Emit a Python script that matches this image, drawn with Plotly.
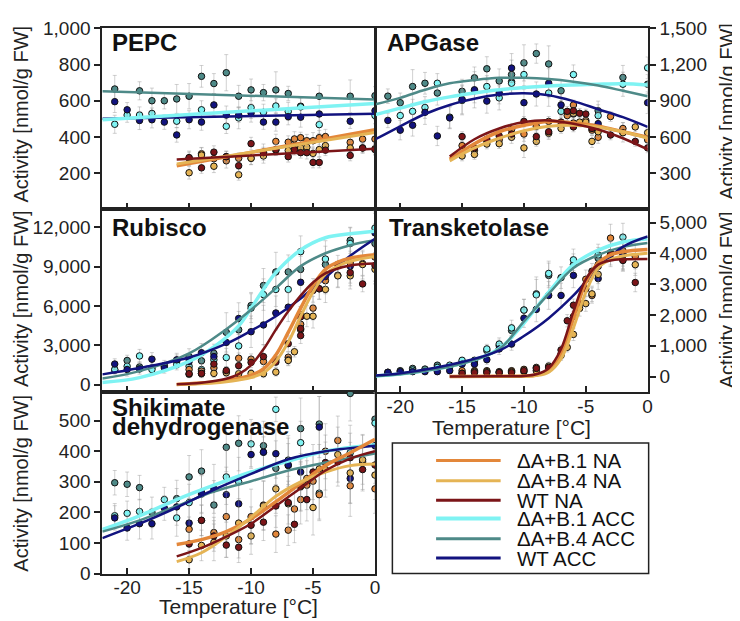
import plotly.graph_objects as go

W, H = 740, 621
FONT = "Liberation Sans, Arial, sans-serif"

TEMP_TICKS = [-20, -15, -10, -5, 0]
TEMP_TICK_TEXT = ["-20", "-15", "-10", "-5", "0"]
SERIES = ["ΔA+B.1 NA", "ΔA+B.4 NA", "WT NA", "ΔA+B.1 ACC", "ΔA+B.4 ACC", "WT ACC"]
COLORS = ["#E3873A", "#E5B455", "#7B1518", "#7FF3F3", "#4E8A88", "#12137F"]
LINE_W = [3.5, 3, 2.5, 3.5, 2.5, 2.5]

# ---------------- PEPC ----------------
PEPC_NA_X = [-15, -14, -13, -12, -11, -10, -9, -8, -7, -6.5, -6, -5.5, -5, -4.5, -4, -2, -1, 0]
PEPC_B1NA_Y = [282, 307, 280, 268, 282, 282, 316, 375, 371, 389, 396, 379, 379, 396, 402, 370, 388, 388]
PEPC_B1NA_E = [40, 35, 30, 40, 30, 35, 45, 40, 35, 40, 30, 35, 45, 40, 40, 35, 30, 30]
PEPC_B4NA_Y = [202, 300, 238, 291, 191, 282, 295, 327, 325, 352, 339, 343, 309, 330, 352, 339, 339, 335]
PEPC_B4NA_E = [35, 40, 35, 30, 30, 35, 40, 30, 35, 30, 30, 30, 35, 40, 35, 40, 30, 30]
PEPC_WTNA_Y = [286, 229, 316, 291, 241, 363, 313, 330, 291, 330, 313, 313, 259, 259, 327, 298, 339, 330]
PEPC_WTNA_E = [30, 30, 35, 30, 35, 35, 30, 30, 30, 30, 30, 35, 30, 30, 30, 30, 25, 30]
PEPC_B1ACC_X = [-21, -20, -19, -18, -16, -14, -12, -11, -10, -9, -8, -7, -6, -4.5, 0]
PEPC_B1ACC_Y = [470, 521, 521, 530, 487, 550, 459, 505, 562, 536, 571, 541, 566, 468, 518]
PEPC_B1ACC_E = [50, 40, 45, 30, 35, 50, 40, 60, 60, 45, 40, 50, 55, 50, 45]
PEPC_B4ACC_X = [-21, -19, -18, -17, -16, -15, -14, -13, -12, -11, -10, -9, -8, -7, -6, -4.5, -2, 0]
PEPC_B4ACC_Y = [665, 655, 600, 600, 610, 625, 735, 695, 755, 625, 660, 645, 660, 640, 570, 625, 625, 628]
PEPC_B4ACC_E = [75, 50, 70, 45, 80, 70, 60, 55, 100, 60, 60, 45, 100, 40, 45, 60, 90, 50]
PEPC_WTACC_X = [-21, -20, -19, -18, -17, -16, -15, -14, -13, -12, -11, -10, -9, -8, -7, -6, -4.5, -2, 0]
PEPC_WTACC_Y = [595, 550, 491, 495, 482, 411, 495, 482, 577, 521, 521, 532, 482, 482, 512, 509, 527, 487, 545]
PEPC_WTACC_E = [60, 40, 50, 45, 40, 40, 50, 45, 60, 50, 40, 50, 40, 50, 45, 55, 40, 40, 50]
PEPC_FIT_NA_X = [-16, 0]
PEPC_FIT_ACC_X = [-22, 0]
PEPC_FIT_B1NA = [240, 440]
PEPC_FIT_B4NA = [250, 425]
PEPC_FIT_WTNA = [275, 335]
PEPC_FIT_B1ACC = [495, 585]
PEPC_FIT_B4ACC = [652, 607]
PEPC_FIT_WTACC = [500, 528]

# ---------------- APGase ----------------
APG_B1NA_X = [-15, -14, -13, -12, -11, -10, -9, -8, -7, -6.5, -6, -6, -5, -4.5, -4, -3, -2, 0]
APG_B1NA_Y = [528, 490, 563, 576, 662, 624, 688, 729, 697, 777, 865, 715, 737, 656, 597, 769, 670, 576]
APG_B1NA_E = [40, 40, 40, 40, 50, 60, 50, 40, 50, 40, 40, 40, 50, 40, 50, 40, 50, 40]
APG_B4NA_X = [-15, -14, -13, -12, -11, -10, -9, -8, -7, -6, -5.5, -5, -4.5, -4, -2, -1, 0]
APG_B4NA_Y = [442, 455, 541, 544, 597, 509, 563, 630, 670, 796, 723, 723, 563, 643, 635, 683, 635]
APG_B4NA_E = [40, 40, 40, 40, 50, 80, 40, 50, 40, 50, 40, 40, 50, 40, 40, 40, 40]
APG_WTNA_X = [-15, -14, -13, -12, -11, -10, -9, -8, -7, -6.5, -6, -6, -5.5, -5, -4.5, -3, -1, 0]
APG_WTNA_Y = [603, 509, 581, 608, 624, 729, 603, 643, 723, 812, 817, 683, 796, 790, 670, 616, 563, 509]
APG_WTNA_E = [40, 40, 40, 40, 40, 40, 50, 50, 40, 40, 40, 40, 40, 40, 40, 40, 40, 40]
APG_B1ACC_X = [-20, -19, -18, -17, -16, -15, -14, -13, -12, -11, -10, -8, -7, -6, -4, -2, 0]
APG_B1ACC_Y = [777, 812, 844, 1045, 764, 903, 983, 1018, 924, 1045, 1117, 964, 812, 1117, 777, 1037, 1173]
APG_B1ACC_E = [80, 100, 90, 80, 90, 120, 100, 90, 100, 90, 120, 110, 90, 80, 90, 100, 90]
APG_B4ACC_X = [-21, -20, -19, -18, -17, -15, -14, -13, -12, -11, -11, -10, -9, -8, -7, -4, -2, 0]
APG_B4ACC_Y = [938, 884, 1018, 1045, 964, 978, 1090, 1165, 1064, 1117, 1058, 1214, 1291, 1205, 983, 817, 1093, 1037]
APG_B4ACC_E = [60, 80, 140, 90, 100, 100, 90, 100, 100, 120, 90, 150, 80, 150, 90, 80, 100, 80]
APG_WTACC_X = [-21, -20, -19, -18, -17, -16, -15, -14, -13, -12, -11, -10, -9, -8, -7, -6, -4, -2, 0]
APG_WTACC_Y = [737, 656, 697, 804, 608, 758, 911, 991, 897, 964, 1171, 884, 956, 1045, 865, 790, 710, 638, 884]
APG_WTACC_E = [60, 80, 90, 100, 80, 90, 120, 150, 100, 90, 120, 140, 100, 120, 90, 100, 90, 80, 90]
APG_FIT_NA_X = [-16, -14, -12, -10, -8, -6, -4, -2, 0]
APG_FIT_ACC_X = [-22, -20, -18, -16, -14, -12, -10, -8, -6, -4, -2, 0]
APG_FIT_B1NA = [415, 544, 643, 697, 729, 715, 688, 643, 597]
APG_FIT_B4NA = [402, 509, 589, 651, 688, 697, 683, 643, 589]
APG_FIT_WTNA = [437, 581, 670, 723, 737, 710, 662, 589, 496]
APG_FIT_B1ACC = [785, 839, 892, 932, 964, 991, 1010, 1023, 1031, 1037, 1040, 1031]
APG_FIT_B4ACC = [871, 924, 991, 1045, 1072, 1090, 1090, 1080, 1058, 1026, 983, 938]
APG_FIT_WTACC = [581, 688, 790, 865, 916, 951, 962, 946, 897, 830, 764, 683]

# ---------------- Rubisco ----------------
RUB_ACC_X = [-21, -20, -19, -18, -17, -16, -15, -14, -13, -12, -11, -10, -9, -8, -7, -6, -4, -2, 0]
RUB_B1ACC_Y = [1158, 1404, 2193, 1158, 1404, 1528, 1404, 1158, 1897, 2070, 2957, 5840, 6874, 7269, 7269, 10151, 9585, 10767, 11950]
RUB_B1ACC_E = [300, 400, 500, 400, 300, 400, 400, 400, 600, 700, 900, 1100, 1200, 1300, 1500, 1200, 1400, 1200, 1300]
RUB_B4ACC_Y = [1109, 1848, 1355, 1281, 1454, 1774, 2144, 1823, 2390, 3992, 4189, 6037, 7564, 8600, 8600, 8797, 9166, 11014, 10767]
RUB_B4ACC_E = [300, 400, 400, 500, 400, 500, 600, 600, 700, 1500, 1400, 1000, 1300, 1500, 1300, 1000, 1400, 1000, 1500]
RUB_WTACC_Y = [1577, 1158, 1207, 1947, 1281, 1897, 1774, 2439, 2144, 3228, 5051, 4041, 4558, 5470, 5914, 7811, 8427, 9043, 11581]
RUB_WTACC_E = [400, 500, 400, 500, 400, 500, 600, 700, 600, 900, 1200, 1200, 1500, 1300, 1100, 1200, 1000, 1500, 1500]
RUB_B1NA_X = [-15, -14, -13, -12, -11, -10, -9, -8, -7, -7, -6, -6, -5, -4.5, -4, -3, -2, -1, 0]
RUB_B1NA_Y = [1158, 1035, 1281, 986, 2020, 1947, 1774, 1897, 2094, 1897, 4189, 4608, 5840, 7318, 7934, 8353, 9289, 9240, 9733]
RUB_B1NA_E = [300, 300, 300, 300, 400, 400, 400, 400, 400, 400, 600, 700, 900, 800, 1000, 900, 900, 900, 1000]
RUB_B4NA_X = [-15, -14, -13, -12, -11, -10, -9, -8, -7, -6.5, -6, -5.5, -5, -4, -3, -2, -1, 0]
RUB_B4NA_Y = [788, 838, 862, 912, 838, 862, 838, 961, 1848, 2513, 5347, 5224, 5224, 7269, 8304, 8304, 9166, 8800]
RUB_B4NA_E = [200, 300, 300, 300, 300, 300, 300, 300, 400, 400, 600, 800, 900, 1000, 900, 1000, 1100, 900]
RUB_WTNA_X = [-15, -14, -13, -12, -11, -10, -9, -8, -7, -6, -6, -6, -5, -4.5, -4, -3, -2, -1, 0]
RUB_WTNA_Y = [838, 862, 1577, 1084, 1454, 1700, 2144, 1725, 3129, 4287, 3745, 5174, 7195, 7318, 8254, 9166, 8550, 7688, 9092]
RUB_WTNA_E = [300, 300, 400, 300, 400, 400, 900, 400, 600, 700, 600, 800, 900, 800, 800, 700, 800, 600, 1400]
RUB_FIT_ACC_X = [-22, -19, -15, -12, -10, -8, -6, -4, -2, 0]
RUB_FIT_B1ACC_X = [-22, -19, -15, -13, -11, -10, -9, -8, -6, -4, -2, 0]
RUB_FIT_B1ACC = [172, 542, 1774, 2883, 4484, 5840, 7269, 8550, 10275, 11211, 11507, 11704]
RUB_FIT_B4ACC = [468, 1035, 2390, 4238, 5716, 7367, 9043, 10028, 10644, 11014]
RUB_FIT_WTACC = [788, 1281, 2070, 3129, 4115, 5224, 6579, 8180, 9831, 11137]
RUB_FIT_WTNA_X = [-16, -14, -12, -11, -10, -9, -8, -7, -6, -5, -4, -2, 0]
RUB_FIT_WTNA = [40, 150, 450, 800, 1500, 2700, 4200, 5600, 6800, 7800, 8500, 9100, 9250]
RUB_FIT_B1NA_X = [-16, -13, -12, -11, -10, -9, -8, -7, -6, -5, -4, -3, -2, 0]
RUB_FIT_B1NA = [20, 200, 345, 500, 715, 1207, 2267, 3992, 5840, 7564, 8797, 9350, 9659, 9905]
RUB_FIT_B4NA_X = [-16, -13, -12, -11, -10, -9, -8, -7, -6, -5, -4, -3, -2, 0]
RUB_FIT_B4NA = [10, 130, 222, 360, 542, 912, 1774, 3252, 5224, 7072, 8427, 9050, 9413, 9782]

# ---------------- Transketolase ----------------
TK_ACC_X = [-21, -20, -19, -18, -17, -16, -15, -14, -13, -12, -11, -10, -9, -8, -7, -6, -4, -2]
TK_WTACC_Y = [137, 158, 158, 158, 158, 189, 400, 400, 547, 895, 1053, 1895, 2179, 2632, 2632, 3284, 3179, 3979]
TK_WTACC_E = [60, 60, 70, 60, 70, 80, 100, 120, 150, 180, 200, 300, 400, 450, 400, 400, 350, 500]
TK_B4ACC_Y = [137, 189, 263, 242, 368, 316, 474, 474, 842, 1000, 1495, 2158, 2684, 3284, 3210, 3632, 3842, 3947]
TK_B4ACC_E = [60, 60, 70, 70, 80, 80, 100, 100, 150, 180, 200, 350, 550, 400, 350, 350, 350, 450]
TK_B1ACC_X = [-19, -17, -16, -15, -14, -13, -12, -11, -10, -9, -8, -6, -4, -2]
TK_B1ACC_Y = [210, 295, 368, 526, 526, 895, 1053, 1579, 2158, 2653, 3347, 3789, 3947, 4526]
TK_B1ACC_E = [60, 70, 80, 100, 100, 150, 200, 250, 350, 500, 400, 350, 350, 450]
TK_WTNA_X = [-15, -14, -13, -12, -11, -10, -9, -8, -7, -6.5, -6, -5.5, -5, -4.5, -4, -3, -2, -1]
TK_WTNA_Y = [105, 126, 126, 126, 126, 189, 263, 295, 863, 1811, 2316, 2368, 2842, 3421, 3579, 3968, 3768, 3053]
TK_WTNA_E = [60, 50, 50, 50, 60, 80, 100, 150, 150, 200, 200, 250, 250, 250, 250, 400, 350, 300]
TK_B1NA_X = [-15, -14, -13, -12, -11, -10, -9, -8, -7, -6, -5, -4.5, -4, -3, -2, -1]
TK_B1NA_Y = [189, 189, 189, 158, 189, 232, 295, 316, 737, 1947, 3158, 2632, 3632, 4495, 4084, 3895]
TK_B1NA_E = [50, 50, 50, 50, 60, 80, 100, 150, 200, 250, 300, 250, 300, 450, 500, 400]
TK_B4NA_X = [-15, -14, -13, -12, -11, -10, -9, -8, -7, -6.5, -6, -5.5, -5, -4.5, -4, -3, -2, -1]
TK_B4NA_Y = [105, 158, 158, 126, 158, 158, 189, 337, 684, 947, 1368, 2211, 2368, 2684, 3316, 4021, 3789, 3632]
TK_B4NA_E = [50, 50, 50, 50, 60, 60, 80, 100, 150, 150, 200, 250, 250, 250, 300, 400, 350, 350]
TK_FIT_ACC_X = [-22, -20, -15, -12, -10, -8, -6, -4, -2, 0]
TK_FIT_WTACC = [32, 105, 474, 842, 1316, 1895, 2632, 3526, 4211, 4547]
TK_FIT_B4ACC = [20, 74, 421, 895, 1789, 2684, 3526, 3947, 4211, 4337]
TK_FIT_B1ACC = [20, 80, 430, 900, 1737, 2737, 3632, 4105, 4368, 4474]
TK_FIT_NA_X = [-16, -12, -10, -9, -8, -7, -6, -5, -4, -3, -2, 0]
TK_FIT_WTNA = [0, 5, 19, 72, 270, 895, 2105, 3158, 3634, 3770, 3808, 3820]
TK_FIT_B1NA = [0, 5, 15, 50, 200, 737, 1895, 3053, 3684, 3950, 4053, 4126]
TK_FIT_B4NA = [0, 3, 10, 32, 140, 579, 1579, 2737, 3526, 3800, 3916, 4000]

# ---------------- Shikimate dehydrogenase ----------------
SK_WTACC_X = [-21, -20, -19, -18, -17, -16, -15, -14, -13, -12, -11, -10, -9, -8, -7, -6, -4.5, -2, 0]
SK_WTACC_Y = [182, 149, 163, 163, 214, 218, 165, 266, 277, 258, 228, 389, 397, 392, 355, 332, 479, 311, 418]
SK_WTACC_E = [40, 40, 50, 50, 40, 60, 80, 70, 80, 90, 70, 40, 50, 80, 70, 60, 100, 80, 60]
SK_B4ACC_X = [-21, -20, -19, -18, -16, -15, -14, -13, -12, -11, -9, -8, -7, -6, -4.5, -2, 0]
SK_B4ACC_Y = [297, 292, 281, 200, 245, 316, 335, 224, 413, 426, 418, 344, 371, 474, 489, 589, 505]
SK_B4ACC_E = [40, 40, 40, 50, 60, 70, 70, 80, 80, 90, 80, 90, 80, 100, 90, 90, 100]
SK_B1ACC_X = [-21, -20, -19, -17, -16, -15, -14, -12, -11, -10, -9, -8, -7, -6, -4.5, -2, 0]
SK_B1ACC_Y = [189, 197, 203, 242, 182, 232, 260, 316, 300, 424, 397, 537, 353, 428, 263, 395, 492]
SK_B1ACC_E = [40, 40, 40, 40, 60, 60, 60, 90, 80, 80, 80, 40, 90, 70, 90, 90, 100]
SK_B1NA_X = [-15, -14, -13, -12, -11, -10, -9, -8, -7, -6.5, -6, -5.5, -5, -4.5, -4, -3, -2, -1, 0]
SK_B1NA_Y = [145, 174, 134, 186, 111, 186, 224, 129, 142, 211, 242, 289, 302, 258, 400, 435, 287, 365, 277]
SK_B1NA_E = [40, 50, 50, 80, 60, 90, 80, 60, 50, 70, 80, 80, 90, 80, 90, 80, 100, 90, 80]
SK_B4NA_X = [-15, -14, -13, -12, -11, -10, -9, -8, -7, -6, -5.5, -5, -4.5, -4, -3, -2, -1, 0]
SK_B4NA_Y = [45, 92, 102, 123, 165, 123, 221, 277, 228, 284, 311, 216, 342, 340, 389, 329, 372, 322]
SK_B4NA_E = [30, 50, 60, 70, 80, 60, 80, 80, 90, 80, 80, 90, 80, 90, 90, 100, 80, 80]
SK_WTNA_X = [-15, -14, -13, -12, -11, -10, -9, -8, -7, -6.5, -6, -5.5, -5, -4, -3, -2, -1, 0]
SK_WTNA_Y = [97, 174, 123, 93, 86, 158, 168, 221, 232, 161, 287, 242, 332, 363, 366, 379, 340, 355]
SK_WTNA_E = [40, 50, 50, 40, 50, 60, 60, 70, 70, 60, 80, 70, 90, 90, 80, 80, 70, 60]
SK_FIT_ACC_X = [-22, -19, -16, -13, -10, -7, -4, 0]
SK_FIT_WTACC = [116, 163, 216, 274, 326, 374, 400, 418]
SK_FIT_B4ACC = [137, 174, 221, 268, 302, 337, 363, 393]
SK_FIT_B1ACC = [144, 189, 242, 289, 332, 368, 400, 421]
SK_FIT_NA_X = [-16, -14, -12, -10, -8, -6, -4, -2, 0]
SK_FIT_B1NA = [95, 111, 137, 179, 235, 295, 353, 395, 439]
SK_FIT_B4NA = [39, 68, 121, 184, 253, 300, 332, 353, 358]
SK_FIT_WTNA = [56, 84, 121, 163, 221, 279, 337, 376, 400]

# series index: 0 B1NA, 1 B4NA, 2 WTNA, 3 B1ACC, 4 B4ACC, 5 WTACC
PANEL_POINTS = [
    ("x", "y", [
        (4, PEPC_B4ACC_X, PEPC_B4ACC_Y, PEPC_B4ACC_E), (3, PEPC_B1ACC_X, PEPC_B1ACC_Y, PEPC_B1ACC_E),
        (5, PEPC_WTACC_X, PEPC_WTACC_Y, PEPC_WTACC_E), (0, PEPC_NA_X, PEPC_B1NA_Y, PEPC_B1NA_E),
        (1, PEPC_NA_X, PEPC_B4NA_Y, PEPC_B4NA_E), (2, PEPC_NA_X, PEPC_WTNA_Y, PEPC_WTNA_E)]),
    ("x2", "y2", [
        (4, APG_B4ACC_X, APG_B4ACC_Y, APG_B4ACC_E), (3, APG_B1ACC_X, APG_B1ACC_Y, APG_B1ACC_E),
        (5, APG_WTACC_X, APG_WTACC_Y, APG_WTACC_E), (0, APG_B1NA_X, APG_B1NA_Y, APG_B1NA_E),
        (1, APG_B4NA_X, APG_B4NA_Y, APG_B4NA_E), (2, APG_WTNA_X, APG_WTNA_Y, APG_WTNA_E)]),
    ("x3", "y3", [
        (4, RUB_ACC_X, RUB_B4ACC_Y, RUB_B4ACC_E), (3, RUB_ACC_X, RUB_B1ACC_Y, RUB_B1ACC_E),
        (5, RUB_ACC_X, RUB_WTACC_Y, RUB_WTACC_E), (0, RUB_B1NA_X, RUB_B1NA_Y, RUB_B1NA_E),
        (1, RUB_B4NA_X, RUB_B4NA_Y, RUB_B4NA_E), (2, RUB_WTNA_X, RUB_WTNA_Y, RUB_WTNA_E)]),
    ("x4", "y4", [
        (4, TK_ACC_X, TK_B4ACC_Y, TK_B4ACC_E), (3, TK_B1ACC_X, TK_B1ACC_Y, TK_B1ACC_E),
        (5, TK_ACC_X, TK_WTACC_Y, TK_WTACC_E), (0, TK_B1NA_X, TK_B1NA_Y, TK_B1NA_E),
        (1, TK_B4NA_X, TK_B4NA_Y, TK_B4NA_E), (2, TK_WTNA_X, TK_WTNA_Y, TK_WTNA_E)]),
    ("x5", "y5", [
        (4, SK_B4ACC_X, SK_B4ACC_Y, SK_B4ACC_E), (3, SK_B1ACC_X, SK_B1ACC_Y, SK_B1ACC_E),
        (5, SK_WTACC_X, SK_WTACC_Y, SK_WTACC_E), (0, SK_B1NA_X, SK_B1NA_Y, SK_B1NA_E),
        (1, SK_B4NA_X, SK_B4NA_Y, SK_B4NA_E), (2, SK_WTNA_X, SK_WTNA_Y, SK_WTNA_E)]),
]

PANEL_FITS = [
    ("x", "y", [
        (5, PEPC_FIT_ACC_X, PEPC_FIT_WTACC), (3, PEPC_FIT_ACC_X, PEPC_FIT_B1ACC), (4, PEPC_FIT_ACC_X, PEPC_FIT_B4ACC),
        (0, PEPC_FIT_NA_X, PEPC_FIT_B1NA), (1, PEPC_FIT_NA_X, PEPC_FIT_B4NA), (2, PEPC_FIT_NA_X, PEPC_FIT_WTNA)]),
    ("x2", "y2", [
        (3, APG_FIT_ACC_X, APG_FIT_B1ACC), (4, APG_FIT_ACC_X, APG_FIT_B4ACC), (5, APG_FIT_ACC_X, APG_FIT_WTACC),
        (0, APG_FIT_NA_X, APG_FIT_B1NA), (1, APG_FIT_NA_X, APG_FIT_B4NA), (2, APG_FIT_NA_X, APG_FIT_WTNA)]),
    ("x3", "y3", [
        (3, RUB_FIT_B1ACC_X, RUB_FIT_B1ACC), (4, RUB_FIT_ACC_X, RUB_FIT_B4ACC), (5, RUB_FIT_ACC_X, RUB_FIT_WTACC),
        (0, RUB_FIT_B1NA_X, RUB_FIT_B1NA), (1, RUB_FIT_B4NA_X, RUB_FIT_B4NA), (2, RUB_FIT_WTNA_X, RUB_FIT_WTNA)]),
    ("x4", "y4", [
        (3, TK_FIT_ACC_X, TK_FIT_B1ACC), (4, TK_FIT_ACC_X, TK_FIT_B4ACC), (5, TK_FIT_ACC_X, TK_FIT_WTACC),
        (0, TK_FIT_NA_X, TK_FIT_B1NA), (1, TK_FIT_NA_X, TK_FIT_B4NA), (2, TK_FIT_NA_X, TK_FIT_WTNA)]),
    ("x5", "y5", [
        (3, SK_FIT_ACC_X, SK_FIT_B1ACC), (4, SK_FIT_ACC_X, SK_FIT_B4ACC), (5, SK_FIT_ACC_X, SK_FIT_WTACC),
        (0, SK_FIT_NA_X, SK_FIT_B1NA), (1, SK_FIT_NA_X, SK_FIT_B4NA), (2, SK_FIT_NA_X, SK_FIT_WTNA)]),
]

fig = go.Figure()

for xa, ya, items in PANEL_POINTS:
    for si, xs, ys, es in items:
        n = min(len(xs), len(ys))
        err = list(es[:n]) + [0] * max(0, n - len(es))
        fig.add_trace(go.Scatter(
            x=xs[:n], y=ys[:n], xaxis=xa, yaxis=ya, mode="markers", showlegend=False,
            cliponaxis=True,
            marker=dict(size=6.5, color=COLORS[si], line=dict(color="#111", width=1)),
            error_y=dict(type="data", array=err, visible=True, color="rgba(150,150,150,0.55)",
                         thickness=0.8, width=2),
        ))

for xa, ya, items in PANEL_FITS:
    for si, xs, ys in items:
        fig.add_trace(go.Scatter(
            x=xs, y=ys, xaxis=xa, yaxis=ya, mode="lines", showlegend=False,
            line=dict(color=COLORS[si], width=LINE_W[si], shape="spline", smoothing=1.0),
        ))


def px(v):
    return v / W


def py(v):
    return 1 - v / H


LEFT = [px(95), px(369.5)]
RIGHT = [px(370), px(644)]
ROW1 = [py(198), py(10)]
ROW2 = [py(387), py(198)]
ROW3 = [py(575), py(387)]

tickfont = dict(family=FONT, size=19, color="#222")


def xax(domain, anchor, labels):
    return dict(domain=domain, anchor=anchor, range=[-22, 0], tickmode="array",
                tickvals=TEMP_TICKS, ticktext=TEMP_TICK_TEXT, showticklabels=labels,
                ticks="inside", ticklen=6, tickwidth=1.5, tickcolor="#222",
                showline=True, linecolor="#222", linewidth=2, mirror=True,
                showgrid=False, zeroline=False, tickfont=tickfont, ticklabelstandoff=-4)


def yax(domain, anchor, rng, tvals, side):
    return dict(domain=domain, anchor=anchor, range=rng, tickmode="array", tickvals=tvals,
                tickformat=",d", side=side, ticks="outside", ticklen=6, tickwidth=1.5,
                tickcolor="#222", showline=True, linecolor="#222", linewidth=2, mirror=True,
                showgrid=False, zeroline=False, tickfont=tickfont)


PEPC_TICKS = [200, 400, 600, 800, 1000]
APG_TICKS = [300, 600, 900, 1200, 1500]
RUB_TICKS = [0, 3000, 6000, 9000, 12000]
TK_TICKS = [0, 1000, 2000, 3000, 4000, 5000]
SK_TICKS = [0, 100, 200, 300, 400, 500]

fig.update_layout(
    width=W, height=H, margin=dict(l=0, r=0, t=0, b=0),
    paper_bgcolor="white", plot_bgcolor="white",
    font=dict(family=FONT, color="#222"),
    xaxis=xax(LEFT, "y", False), yaxis=yax(ROW1, "x", [0, 1004], PEPC_TICKS, "left"),
    xaxis2=xax(RIGHT, "y2", False), yaxis2=yax(ROW1, "x2", [0, 1506], APG_TICKS, "right"),
    xaxis3=xax(LEFT, "y3", False), yaxis3=yax(ROW2, "x3", [-550, 13380], RUB_TICKS, "left"),
    xaxis4=xax(RIGHT, "y4", True), yaxis4=yax(ROW2, "x4", [-500, 5430], TK_TICKS, "right"),
    xaxis5=xax(LEFT, "y5", True), yaxis5=yax(ROW3, "x5", [0, 594], SK_TICKS, "left"),
)

ann = []
title_font = dict(family=FONT, size=24, color="#111")
for txt, x, y in [("PEPC", 103, 25), ("APGase", 380, 25), ("Rubisco", 103, 217),
                  ("Transketolase", 382, 217), ("Shikimate", 103, 403), ("dehydrogenase", 103, 423)]:
    ann.append(dict(text="<b>%s</b>" % txt, x=px(x), y=py(y), xref="paper", yref="paper",
                    xanchor="left", yanchor="middle", showarrow=False, font=title_font))

axis_font = dict(family=FONT, size=20, color="#222")
for x, y in [(13, 99), (13, 290), (13, 481)]:
    ann.append(dict(text="Activity [nmol/g FW]", x=px(x), y=py(y), xref="paper", yref="paper",
                    textangle=-90, xanchor="center", yanchor="middle", showarrow=False, font=axis_font))
for x, y in [(724, 97), (724, 292)]:
    ann.append(dict(text="Activity [nmol/g FW]", x=px(x), y=py(y), xref="paper", yref="paper",
                    textangle=-90, xanchor="center", yanchor="middle", showarrow=False, font=axis_font))
for x, y in [(232, 609), (507, 424)]:
    ann.append(dict(text="Temperature [°C]", x=px(x), y=py(y), xref="paper", yref="paper",
                    xanchor="center", yanchor="middle", showarrow=False,
                    font=dict(family=FONT, size=21, color="#222")))

# legend box drawn by hand
shapes = [dict(type="rect", xref="paper", yref="paper", x0=px(387), x1=px(645), y0=py(575), y1=py(440),
               line=dict(color="#222", width=1.5), fillcolor="white", layer="above")]
leg_y = [458, 479, 499, 518, 539, 559]
for i, name in enumerate(SERIES):
    shapes.append(dict(type="line", xref="paper", yref="paper", x0=px(431), x1=px(496),
                       y0=py(leg_y[i]), y1=py(leg_y[i]),
                       line=dict(color=COLORS[i], width=4 if i == 3 else 3), layer="above"))
    ann.append(dict(text=name, x=px(510), y=py(leg_y[i]), xref="paper", yref="paper",
                    xanchor="left", yanchor="middle", showarrow=False,
                    font=dict(family=FONT, size=20.5, color="#111")))

fig.update_layout(annotations=ann, shapes=shapes)
fig.write_html("out.html")
